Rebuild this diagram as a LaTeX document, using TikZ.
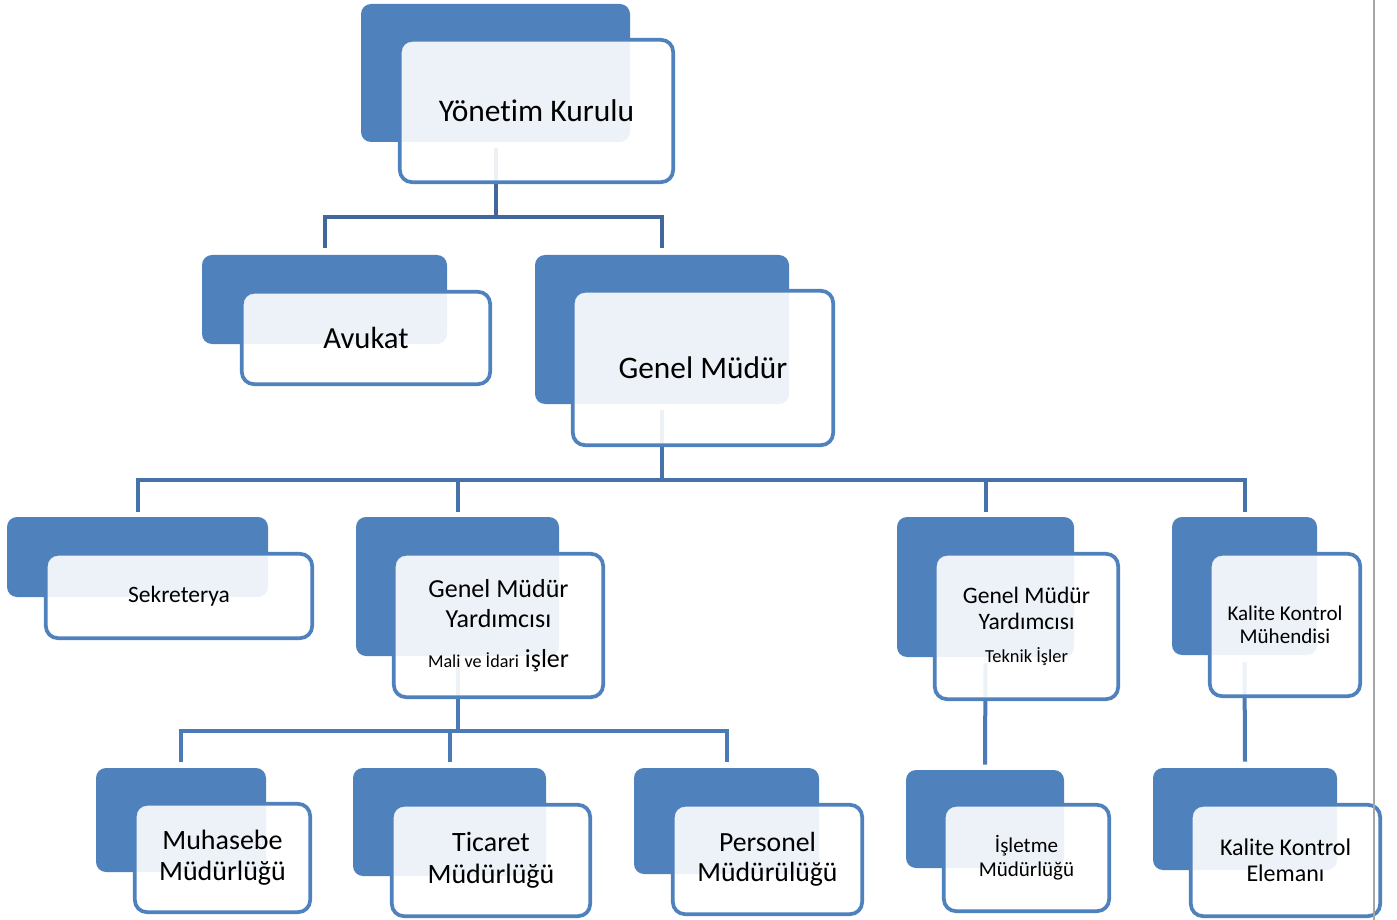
\documentclass[tikz,border=0pt]{standalone}
\usepackage{fontspec}
\setmainfont{Carlito}[Ligatures=NoCommon]
\usetikzlibrary{calc}
\pgfdeclarelayer{bg}
\pgfsetlayers{bg,main}
\definecolor{boxblue}{HTML}{4F81BD}
\definecolor{connA}{HTML}{41679C}
\definecolor{connB}{HTML}{4672AB}
\definecolor{connC}{HTML}{4B7BB7}
\definecolor{pagegray}{HTML}{A6A6A6}
\tikzset{
  backbox/.style={fill=boxblue, draw=none, rounded corners=7.5pt, inner sep=0pt},
  frontbox/.style={fill=white, fill opacity=0.9, text opacity=1, draw opacity=1,
    draw=boxblue, line width=2.8pt, rounded corners=9pt, inner sep=0pt,
    align=center, text=black},
  conn/.style={line width=3pt},
}
\newcommand\backrect[5]{%
  \node[backbox, minimum width={(#4-#2)*0.75pt}, minimum height={(#5-#3)*0.75pt}]
    (#1-b) at ({(#2+#4)/2},{(#3+#5)/2}) {};}
\newcommand\frontrect[7]{%
  \node[frontbox, font={#6}, minimum width={(#4-#2-3.7)*0.75pt}, minimum height={(#5-#3-3.7)*0.75pt}]
    (#1) at ({(#2+#4)/2},{(#3+#5)/2}) {#7};}
\begin{document}
\begin{tikzpicture}[x=0.75pt,y=-0.75pt]
\useasboundingbox (0,0) rectangle (1397,920);
% level 0
\backrect{yk}{361}{4}{630}{142}
\frontrect{yk}{398}{38}{675}{184}{\fontsize{23.6}{28}\selectfont}{Yönetim Kurulu}
% level 1
\backrect{av}{202}{255}{447}{344}
\frontrect{av}{240}{290}{492}{386}{\fontsize{23}{28}\selectfont}{Avukat}
\backrect{gm}{535}{255}{789}{404}
\frontrect{gm}{571}{289}{835}{447}{\fontsize{23.5}{28}\selectfont}{Genel Müdür}
% level 2
\backrect{se}{7}{517}{268}{597}
\frontrect{se}{44}{552}{314}{640}{\fontsize{17.6}{21}\selectfont}{Sekreterya}
\backrect{gmy}{356}{517}{559}{656}
\frontrect{gmy}{392}{552}{605}{699}{\fontsize{19.5}{22.5}\selectfont}{Genel Müdür\\Yardımcısı\\[7pt]{\fontsize{13.6}{16}\selectfont Mali ve İdari} işler}
\backrect{gmt}{897}{517}{1074}{657}
\frontrect{gmt}{933}{552}{1120}{701}{\fontsize{17.7}{19.5}\selectfont}{Genel Müdür\\Yardımcısı\\[5pt]{\fontsize{13.8}{16}\selectfont Teknik İşler}}
\backrect{kkm}{1172}{517}{1317}{655}
\frontrect{kkm}{1208}{552}{1362}{698}{\fontsize{15.8}{17.3}\selectfont}{Kalite Kontrol\\Mühendisi}
% level 3
\backrect{mu}{96}{768}{266}{872}
\frontrect{mu}{133}{802}{312}{914}{\fontsize{21}{23.3}\selectfont}{\rule{0pt}{5pt}Muhasebe\\Müdürlüğü}
\backrect{ti}{353}{768}{546}{876}
\frontrect{ti}{390}{803}{592}{918}{\fontsize{21}{24}\selectfont}{Ticaret\\Müdürlüğü}
\backrect{pe}{634}{768}{819}{874}
\frontrect{pe}{671}{803}{864}{916}{\fontsize{20.8}{22.5}\selectfont}{Personel\\Müdürülüğü}
\backrect{isl}{906}{770}{1064}{868}
\frontrect{isl}{942}{803}{1111}{913}{\fontsize{15.8}{18}\selectfont}{İşletme\\Müdürlüğü}
\backrect{kke}{1153}{768}{1337}{870}
\frontrect{kke}{1189}{803}{1382}{918}{\fontsize{18}{19.5}\selectfont}{Kalite Kontrol\\Elemanı}
% connectors
\coordinate (bar1) at (0,217);
\coordinate (bar2) at (0,480);
\coordinate (bar3) at (0,731);
\begin{pgfonlayer}{bg}
\draw[conn,connA] ([shift={(0,6)}]yk-b.south) -- (yk-b.south |- bar1);
\draw[conn,connA] ([shift={(0,-7)}]av-b.north) |- (gm-b.north |- bar1) -- ([shift={(0,-7)}]gm-b.north);
\draw[conn,connB] ([shift={(0,6)}]gm-b.south) -- (gm-b.south |- bar2);
\draw[conn,connB] ([shift={(0,-5)}]se-b.north) |- (kkm-b.north |- bar2) -- ([shift={(0,-5)}]kkm-b.north);
\draw[conn,connB] (gmy-b.north |- bar2) -- ([shift={(0,-5)}]gmy-b.north);
\draw[conn,connB] (gmt-b.north |- bar2) -- ([shift={(0,-5)}]gmt-b.north);
\draw[conn,connC] ([shift={(0,6)}]gmy-b.south) -- (gmy-b.south |- bar3);
\draw[conn,connC] ([shift={(0,-6)}]mu-b.north) |- (pe-b.north |- bar3) -- ([shift={(0,-6)}]pe-b.north);
\draw[conn,connC] (ti-b.north |- bar3) -- ([shift={(0,-6)}]ti-b.north);
\draw[conn,connC] ([shift={(0,6)}]gmt-b.south) -- ([shift={(0,-5)}]isl-b.north);
\draw[conn,connC] ([shift={(0,7)}]kkm-b.south) -- ([shift={(0,-6)}]kke-b.north);
\end{pgfonlayer}
% page edge
\draw[pagegray, line width=2.2pt] (1374,0) -- (1374,920);
\end{tikzpicture}
\end{document}
